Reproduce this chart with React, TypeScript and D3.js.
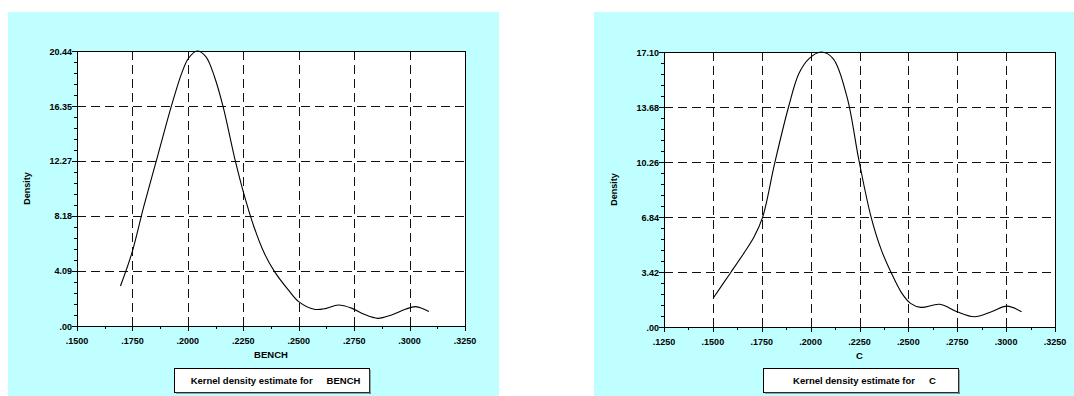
import React from "react";
import * as d3 from "d3";

// ---- Data ----
const benchX = [0.1696, 0.1747, 0.1801, 0.1863, 0.1925, 0.1972, 0.2003, 0.2042, 0.2081, 0.2120, 0.2159, 0.2213, 0.2252, 0.2298, 0.2345, 0.2391, 0.2453, 0.2500, 0.2570, 0.2624, 0.2678, 0.2741, 0.2795, 0.2857, 0.2919, 0.2981, 0.3028, 0.3087];
const benchY = [2.97, 5.40, 8.87, 12.59, 16.30, 18.78, 19.90, 20.44, 20.02, 18.53, 16.30, 12.34, 9.86, 7.38, 5.40, 4.04, 2.68, 1.81, 1.24, 1.31, 1.56, 1.31, 0.87, 0.57, 0.82, 1.24, 1.44, 1.07];

const cX = [0.1503, 0.1588, 0.1658, 0.1711, 0.1755, 0.1816, 0.1887, 0.1940, 0.1992, 0.2054, 0.2115, 0.2186, 0.2247, 0.2309, 0.2362, 0.2414, 0.2467, 0.2511, 0.2564, 0.2661, 0.2749, 0.2837, 0.2925, 0.3004, 0.3079];
const cY = [1.82, 3.33, 4.58, 5.61, 6.85, 10.17, 13.68, 15.76, 16.69, 17.10, 16.69, 14.31, 10.37, 6.85, 4.78, 3.33, 2.09, 1.47, 1.22, 1.41, 0.95, 0.64, 0.95, 1.30, 0.95];

const benchYTicks = [0, 4.09, 8.18, 12.27, 16.35, 20.44];
const cYTicks = [0, 3.42, 6.84, 10.26, 13.68, 17.1];
const benchXTicks = [0.15, 0.175, 0.2, 0.225, 0.25, 0.275, 0.3, 0.325];
const cXTicks = [0.125, 0.15, 0.175, 0.2, 0.225, 0.25, 0.275, 0.3, 0.325];

const FONT = "'Liberation Sans', Arial, Helvetica, sans-serif";
const BG = "#c0ffff";

type PanelProps = {
  bg: { x: number; y: number; w: number; h: number };
  plot: { l: number; r: number; t: number; b: number };
  legend: { x: number; y: number; w: number; h: number };
  xs: number[];
  ys: number[];
  xTicks: number[];
  yTicks: number[];
  name: string;
};

const fmtX = (v: number) => v.toFixed(4).replace(/^0/, "");
const fmtY = (v: number) => v.toFixed(2).replace(/^0/, "");

function Panel({ bg, plot, legend, xs, ys, xTicks, yTicks, name }: PanelProps) {
  const x = d3.scaleLinear().domain([xTicks[0], xTicks[xTicks.length - 1]]).range([plot.l, plot.r]);
  const y = d3.scaleLinear().domain([0, yTicks[yTicks.length - 1]]).range([plot.b, plot.t]);
  const pts: [number, number][] = xs.map((v, i) => [v, ys[i]]);
  const line = d3
    .line<[number, number]>()
    .x((d) => x(d[0]))
    .y((d) => y(d[1]))
    .curve(d3.curveCatmullRom.alpha(0.5));

  const xMinor: number[] = [];
  for (let i = 0; i < xTicks.length - 1; i++) xMinor.push((xTicks[i] + xTicks[i + 1]) / 2);
  const yMinor: number[] = [];
  for (let i = 0; i < yTicks.length - 1; i++)
    for (let k = 1; k < 5; k++) yMinor.push(yTicks[i] + ((yTicks[i + 1] - yTicks[i]) * k) / 5);

  const cx = (plot.l + plot.r) / 2;
  const cy = (plot.t + plot.b) / 2;

  return (
    <g>
      <rect x={bg.x} y={bg.y} width={bg.w} height={bg.h} fill={BG} />
      <rect x={plot.l} y={plot.t} width={plot.r - plot.l} height={plot.b - plot.t} fill="#ffffff" />
      {/* grid */}
      {xTicks.slice(1, -1).map((t) => (
        <line key={"gx" + t} x1={Math.round(x(t)) + 0.5} x2={Math.round(x(t)) + 0.5} y1={plot.t} y2={plot.b} stroke="#111" strokeWidth={1} strokeDasharray="9,5" />
      ))}
      {yTicks.slice(1, -1).map((t) => (
        <line key={"gy" + t} x1={plot.l} x2={plot.r} y1={Math.round(y(t)) + 0.5} y2={Math.round(y(t)) + 0.5} stroke="#111" strokeWidth={1} strokeDasharray="9,5" />
      ))}
      {/* curve */}
      <path d={line(pts) || ""} fill="none" stroke="#000" strokeWidth={1.1} />
      {/* frame */}
      <rect x={plot.l + 0.5} y={plot.t + 0.5} width={plot.r - plot.l} height={plot.b - plot.t} fill="none" stroke="#000" strokeWidth={1} />
      {/* x ticks */}
      {xTicks.map((t) => (
        <line key={"tx" + t} x1={Math.round(x(t)) + 0.5} x2={Math.round(x(t)) + 0.5} y1={plot.b} y2={plot.b + 5} stroke="#000" />
      ))}
      {xMinor.map((t) => (
        <line key={"mx" + t} x1={Math.round(x(t)) + 0.5} x2={Math.round(x(t)) + 0.5} y1={plot.b} y2={plot.b + 3} stroke="#000" />
      ))}
      {xTicks.map((t) => (
        <text key={"lx" + t} x={x(t)} y={plot.b + 18} textAnchor="middle" fontFamily={FONT} fontWeight="bold" fontSize={9} fill="#000">
          {fmtX(t)}
        </text>
      ))}
      {/* y ticks */}
      {yTicks.map((t) => (
        <line key={"ty" + t} x1={plot.l - 5} x2={plot.l} y1={Math.round(y(t)) + 0.5} y2={Math.round(y(t)) + 0.5} stroke="#000" />
      ))}
      {yMinor.map((t) => (
        <line key={"my" + t} x1={plot.l - 3} x2={plot.l} y1={Math.round(y(t)) + 0.5} y2={Math.round(y(t)) + 0.5} stroke="#000" />
      ))}
      {yTicks.map((t) => (
        <text key={"ly" + t} x={plot.l - 5} y={y(t) + 3.5} textAnchor="end" fontFamily={FONT} fontWeight="bold" fontSize={9} fill="#000">
          {fmtY(t)}
        </text>
      ))}
      {/* axis titles */}
      <text x={cx} y={plot.b + 32} textAnchor="middle" fontFamily={FONT} fontWeight="bold" fontSize={9.5} fill="#000">
        {name}
      </text>
      <text
        transform={`translate(${plot.l - 47},${cy}) rotate(-90)`}
        textAnchor="middle"
        fontFamily={FONT}
        fontWeight="bold"
        fontSize={9}
        fill="#000"
      >
        Density
      </text>
      {/* legend */}
      <rect x={legend.x + 0.5} y={legend.y + 0.5} width={legend.w} height={legend.h} fill="#ffffff" stroke="#000" strokeWidth={1} />
      <rect x={legend.x + 2} y={legend.y + legend.h + 0.5} width={legend.w} height={1} fill="#555" />
      <rect x={legend.x + legend.w + 0.5} y={legend.y + 2} width={1} height={legend.h} fill="#555" />
      <text x={legend.x + legend.w / 2 + 4} y={legend.y + legend.h / 2 + 3.5} textAnchor="middle" fontFamily={FONT} fontWeight="bold" fontSize={9.5} fill="#000">
        Kernel density estimate for
        <tspan dx={14}>{name}</tspan>
      </text>
    </g>
  );
}

export default function App() {
  return (
    <svg width={1074} height={396} style={{ position: "absolute", left: 0, top: 0, display: "block" }}>
      <rect x={0} y={0} width={1074} height={396} fill="#ffffff" />
      <Panel
        bg={{ x: 8, y: 12, w: 491, h: 384 }}
        plot={{ l: 77, r: 465, t: 51, b: 326 }}
        legend={{ x: 174, y: 368, w: 195, h: 24 }}
        xs={benchX}
        ys={benchY}
        xTicks={benchXTicks}
        yTicks={benchYTicks}
        name="BENCH"
      />
      <Panel
        bg={{ x: 594, y: 12, w: 480, h: 384 }}
        plot={{ l: 664, r: 1055, t: 52, b: 327 }}
        legend={{ x: 763, y: 368, w: 195, h: 24 }}
        xs={cX}
        ys={cY}
        xTicks={cXTicks}
        yTicks={cYTicks}
        name="C"
      />
    </svg>
  );
}
